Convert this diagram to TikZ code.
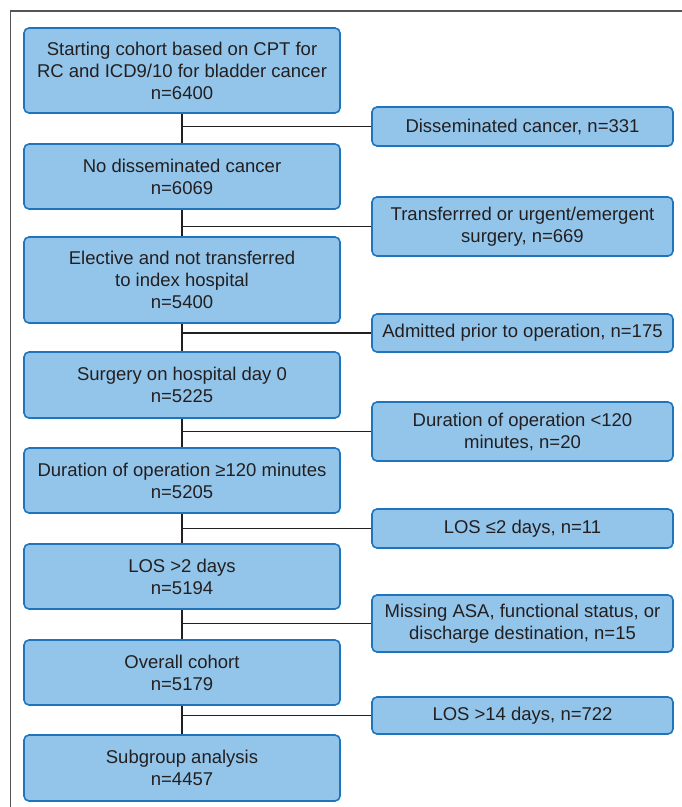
\documentclass[tikz,border=0pt]{standalone}
\usepackage{fontspec}
\setmainfont{Liberation Sans}
\definecolor{boxfill}{HTML}{93C5EA}
\definecolor{boxdraw}{HTML}{1E74BD}
\definecolor{txt}{HTML}{231F20}
\definecolor{framecol}{HTML}{555555}
\begin{document}
\begin{tikzpicture}[x=1pt,y=-1pt,
  box/.style={draw=boxdraw, fill=boxfill, line width=1.6pt, rounded corners=5pt,
    align=center, text=txt, inner sep=0pt, font=\fontsize{18.5}{22}\selectfont},
  lbox/.style={box, minimum width=316pt},
  rbox/.style={box, minimum width=301pt},
  link/.style={draw=txt, line width=1.8pt}]
\useasboundingbox (0,0) rectangle (682,807);
\draw[framecol, line width=1.6pt] (10.5,807) -- (10.5,11) -- (682,11);

\node[lbox, minimum height=85pt] (b1) at (182,70.5) {Starting cohort based on CPT for\\RC and ICD9/10 for bladder cancer\\n=6400};
\node[lbox, minimum height=65pt] (b2) at (182,176.5) {No disseminated cancer\\n=6069};
\node[lbox, minimum height=86pt] (b3) at (182,280) {Elective and not transferred\\to index hospital\\n=5400};
\node[lbox, minimum height=66pt] (b4) at (182,385) {Surgery on hospital day 0\\n=5225};
\node[lbox, minimum height=65pt] (b5) at (182,480.5) {Duration of operation ≥120 minutes\\n=5205};
\node[lbox, minimum height=65pt] (b6) at (182,576.5) {LOS >2 days\\n=5194};
\node[lbox, minimum height=65pt] (b7) at (182,672.5) {Overall cohort\\n=5179};
\node[lbox, minimum height=66pt] (b8) at (182,768) {Subgroup analysis\\n=4457};

\node[rbox, minimum height=39pt] (r1) at (522.5,126.5) {Disseminated cancer, n=331};
\node[rbox, minimum height=59pt] (r2) at (522.5,226.5) {Transferrred or urgent/emergent\\surgery, n=669};
\node[rbox, minimum height=38pt] (r3) at (522.5,333) {Admitted prior to operation, n=175};
\node[rbox, minimum height=59pt] (r4) at (522.5,431.5) {Duration of operation <120\\minutes, n=20};
\node[rbox, minimum height=39pt] (r5) at (522.5,528.5) {LOS ≤2 days, n=11};
\node[rbox, minimum height=57pt] (r6) at (522.5,623.5) {Missing ASA, functional status, or\\discharge destination, n=15};
\node[rbox, minimum height=37pt] (r7) at (522.5,715.5) {LOS >14 days, n=722};

\foreach \a/\b in {b1/b2,b2/b3,b3/b4,b4/b5,b5/b6,b6/b7,b7/b8}
  \draw[link] (\a.south) -- (\b.north);
\foreach \r in {r1,r2,r3,r4,r5,r6,r7}
  \draw[link] (\r.west) -- (\r.west -| b1.south);
\end{tikzpicture}
\end{document}
